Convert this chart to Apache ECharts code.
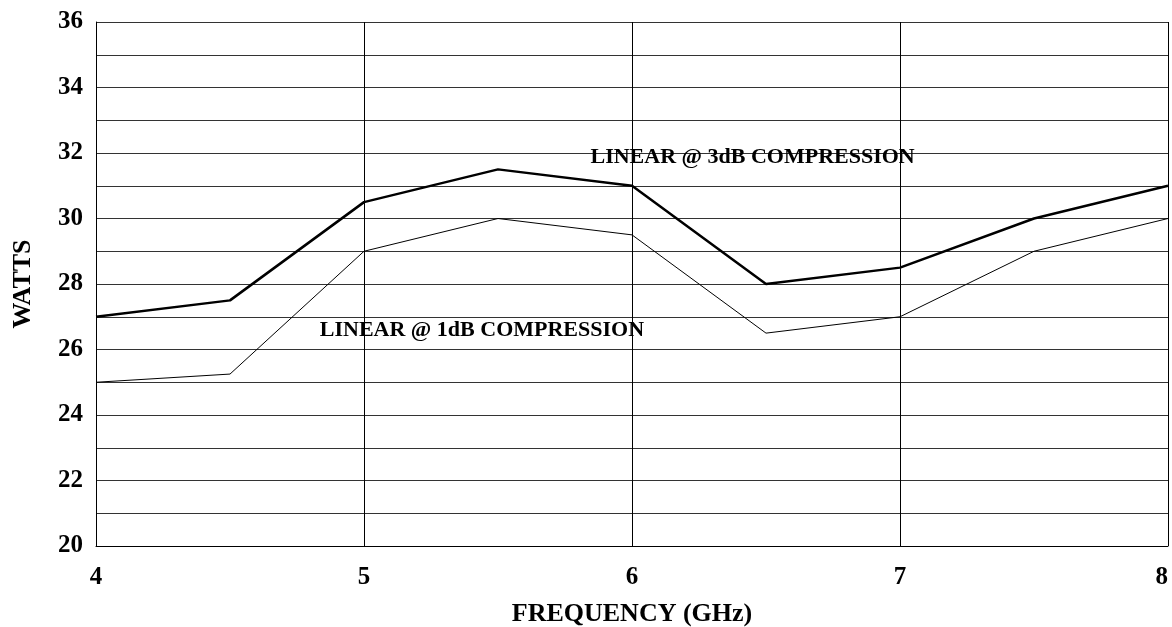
<!DOCTYPE html>
<html><head><meta charset="utf-8">
<script src="https://cdn.jsdelivr.net/npm/echarts@6/dist/echarts.min.js"></script>
<style>html,body{margin:0;padding:0;background:#fff}#c{width:1172px;height:627px}</style>
</head><body><div id="c"></div>
<script>
const freq = [4, 4.5, 5, 5.5, 6, 6.5, 7, 7.5, 8];
const db3 = [27, 27.5, 30.5, 31.5, 31, 28, 28.5, 30, 31];
const db1 = [25, 25.25, 29, 30, 29.5, 26.5, 27, 29, 30];
const label3 = 'LINEAR @ 3dB COMPRESSION';
const label1 = 'LINEAR @ 1dB COMPRESSION';
const label3Pos = [6.45, 31.88];
const label1Pos = [5.44, 26.6];

const FONT = '"Liberation Serif", "DejaVu Serif", serif';
const chart = echarts.init(document.getElementById('c'));
chart.setOption({
  animation: false,
  backgroundColor: '#fff',
  grid: {left: 96, right: 4, top: 22, bottom: 81, containLabel: false, outerBoundsMode: 'none'},
  xAxis: {
    type: 'value', min: 4, max: 8, interval: 1,
    name: 'FREQUENCY (GHz)', nameLocation: 'middle', nameGap: 55,
    nameTextStyle: {fontFamily: FONT, fontWeight: 'bold', fontSize: 26, color: '#000'},
    axisLine: {lineStyle: {color: '#000', width: 1}},
    axisTick: {show: false},
    splitLine: {show: true, lineStyle: {color: '#000', width: 1}},
    axisLabel: {fontFamily: FONT, fontWeight: 'bold', fontSize: 25, color: '#000', margin: 19, alignMaxLabel: 'right'}
  },
  yAxis: {
    type: 'value', min: 20, max: 36, interval: 1,
    name: 'WATTS', nameLocation: 'middle', nameGap: 60, nameRotate: 90,
    nameTextStyle: {fontFamily: FONT, fontWeight: 'bold', fontSize: 26, color: '#000'},
    axisLine: {show: true, lineStyle: {color: '#000', width: 1}},
    axisTick: {show: false},
    splitLine: {show: true, lineStyle: {color: '#333', width: 1}},
    axisLabel: {fontFamily: FONT, fontWeight: 'bold', fontSize: 25, color: '#000', margin: 13,
      formatter: v => (v % 2 === 0 ? String(v) : '')}
  },
  series: [
    {
      type: 'line', data: freq.map((f, i) => [f, db3[i]]), symbol: 'none',
      lineStyle: {color: '#000', width: 2.5},
      markPoint: {
        symbol: 'circle', symbolSize: 0,
        label: {show: true, formatter: label3, fontFamily: FONT, fontWeight: 'bold', fontSize: 22, color: '#000'},
        data: [{coord: label3Pos}]
      }
    },
    {
      type: 'line', data: freq.map((f, i) => [f, db1[i]]), symbol: 'none',
      lineStyle: {color: '#000', width: 1},
      markPoint: {
        symbol: 'circle', symbolSize: 0,
        label: {show: true, formatter: label1, fontFamily: FONT, fontWeight: 'bold', fontSize: 22, color: '#000'},
        data: [{coord: label1Pos}]
      }
    }
  ]
});
</script></body></html>
